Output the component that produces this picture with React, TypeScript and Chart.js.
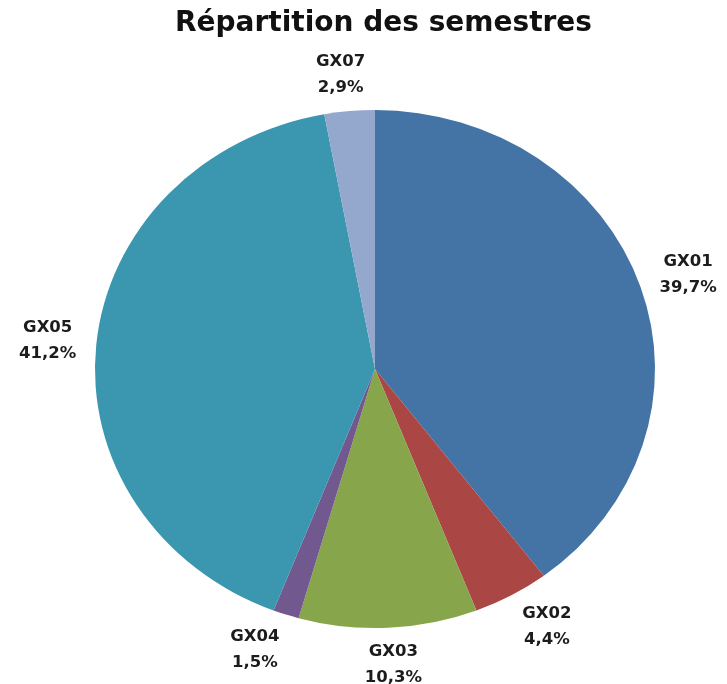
import React, { useEffect, useRef } from "react";
import { Chart, registerables } from "chart.js";

Chart.register(...registerables);

const TITLE = "Répartition des semestres";
const categories = ["GX01", "GX02", "GX03", "GX04", "GX05", "GX07"];
const percentValues = [39.7, 4.4, 10.3, 1.5, 41.2, 2.9];
const sliceColors = ["#4374A5", "#AA4643", "#87A54B", "#71588F", "#3A97AF", "#94A8CE"];

const Y_SCALE = 0.925;
const FONT = "'DejaVu Sans', sans-serif";

function fmt(v: number) {
  return v.toFixed(1).replace(".", ",") + "%";
}

const ellipsePlugin = {
  id: "ellipse",
  beforeDatasetsDraw(chart: any) {
    const arc = chart.getDatasetMeta(0).data[0];
    if (!arc) return;
    const ctx = chart.ctx;
    ctx.save();
    ctx.translate(arc.x, arc.y);
    ctx.scale(1, Y_SCALE);
    ctx.translate(-arc.x, -arc.y);
  },
  afterDatasetsDraw(chart: any) {
    chart.ctx.restore();
  },
};

const clamp = (v: number) => Math.max(-1, Math.min(1, v));

const labelPlugin = {
  id: "outerLabels",
  afterDraw(chart: any) {
    const ctx = chart.ctx;
    const meta = chart.getDatasetMeta(0);
    // title
    ctx.save();
    ctx.fillStyle = "#111111";
    ctx.font = `bold 28px ${FONT}`;
    ctx.textAlign = "center";
    ctx.textBaseline = "middle";
    ctx.fillText(TITLE, chart.width / 2 + 20, 16);
    ctx.restore();

    ctx.save();
    ctx.fillStyle = "#1c1c1c";
    ctx.font = `bold 16.5px ${FONT}`;
    ctx.textAlign = "center";
    ctx.textBaseline = "middle";
    meta.data.forEach((arc: any, i: number) => {
      const mid = (arc.startAngle + arc.endAngle) / 2;
      const a = mid + Math.PI / 2; // angle from top, clockwise
      const s = Math.sin(a);
      const c = Math.cos(a);
      const r = arc.outerRadius + 18;
      const w = Math.max(ctx.measureText(categories[i]).width, ctx.measureText(fmt(percentValues[i])).width) + 4;
      const h = 40;
      const x = arc.x + r * s + (w / 2) * clamp(s * 3);
      const y = arc.y - r * c * Y_SCALE - (h / 2) * c;
      ctx.fillText(categories[i], x, y - 13);
      ctx.fillText(fmt(percentValues[i]), x, y + 13);
    });
    ctx.restore();
  },
};

export default function App() {
  const ref = useRef<HTMLCanvasElement | null>(null);
  useEffect(() => {
    if (!ref.current) return;
    const chart = new Chart(ref.current, {
      type: "pie",
      data: {
        labels: categories,
        datasets: [
          {
            data: percentValues,
            backgroundColor: sliceColors,
            borderWidth: 0,
          },
        ],
      },
      options: {
        animation: false,
        responsive: false,
        layout: { padding: { left: 87, right: 64, top: 81, bottom: 35 } },
        plugins: {
          legend: { display: false },
          title: { display: false },
          tooltip: { enabled: false },
        },
      },
      plugins: [ellipsePlugin, labelPlugin],
    });
    return () => chart.destroy();
  }, []);
  return (
    <div style={{ width: 711, height: 676 }}>
      <canvas ref={ref} width={711} height={676} style={{ width: 711, height: 676 }} />
    </div>
  );
}
